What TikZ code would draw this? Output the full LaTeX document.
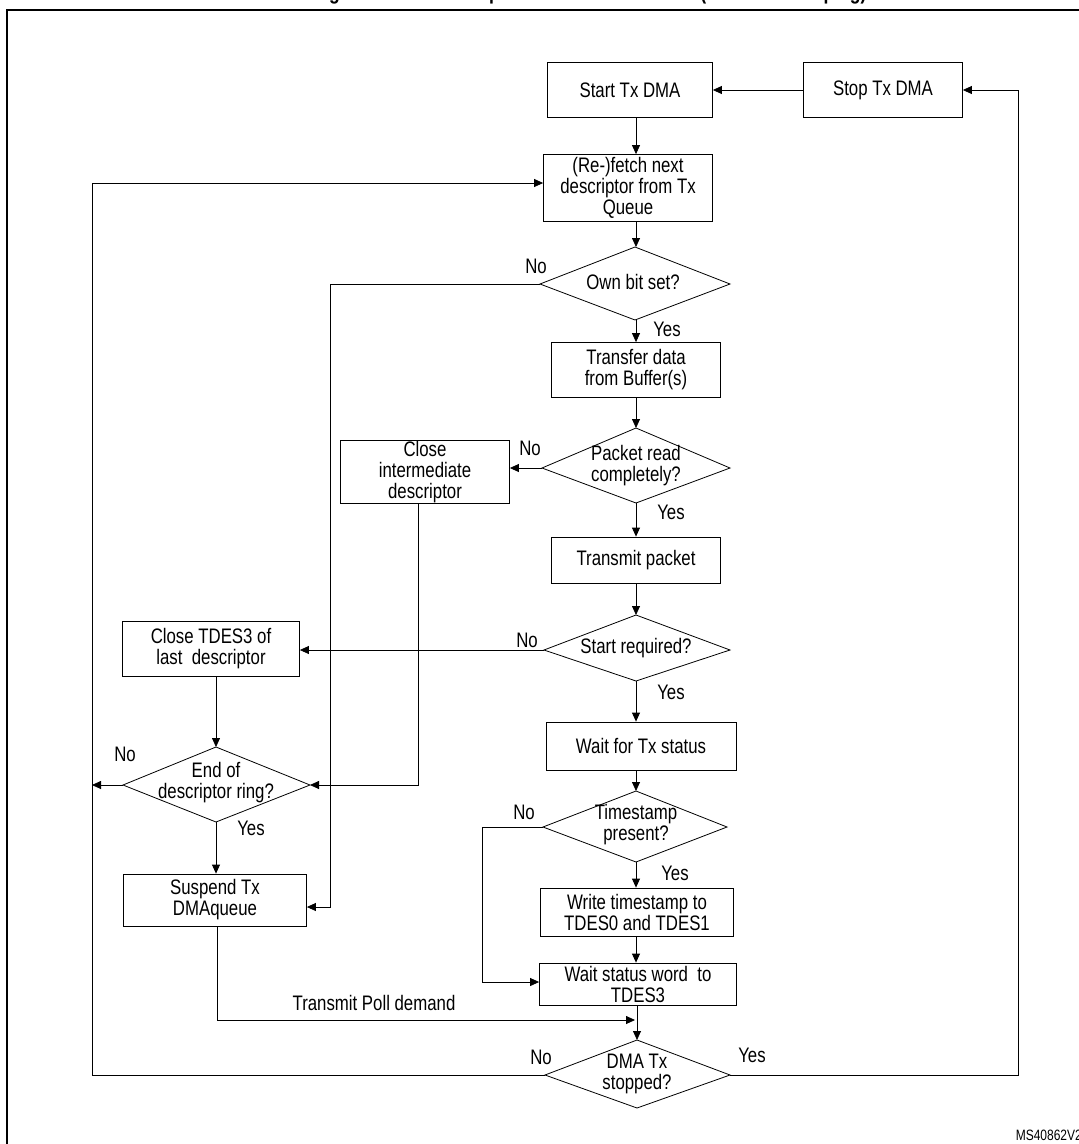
\documentclass[tikz,border=0pt]{standalone}
\usepackage{fontspec}
\setmainfont[FakeStretch=0.8]{Liberation Sans}
\usetikzlibrary{arrows.meta}
\begin{document}
\begin{tikzpicture}[x=1pt,y=-1pt,
  font=\fontsize{21}{21}\selectfont,
  box/.style={draw,line width=0.8pt,align=center,inner sep=1pt},
  dia/.style={align=center,inner sep=0pt},
  lbl/.style={inner sep=0pt},
  line/.style={line width=0.8pt},
  arr/.style={line width=0.8pt,-{Triangle[length=9pt,width=8pt]}}]
\useasboundingbox (0,0) rectangle (1079,1144);
\begin{scope}
\clip (0,0) rectangle (1079,1144);
\node[font=\bfseries\fontsize{22}{22}\selectfont] (title) at (590,-6) {Figure 541. TxDMA operation in Default mode (with timestamping)};
\draw[line width=1.2pt] (7,1150) -- (7,10) -- (1090,10);
\end{scope}
\node[box,minimum width=165,minimum height=55] (start) at (630,90) {Start Tx DMA};
\node[box,minimum width=159,minimum height=55] (stop) at (883,90) {Stop Tx DMA};
\node[box,minimum width=169,minimum height=67] (fetch) at (628,188) {(Re-)fetch next\\descriptor from Tx\\Queue};
\draw[line] (540,284)--(635,247)--(730,284)--(635,320)--cycle;
\node[dia] (own) at (633,282) {Own bit set?};
\node[box,minimum width=169,minimum height=55] (transfer) at (636,370) {Transfer data\\from Buffer(s)};
\draw[line] (542,468)--(636,428)--(730,468)--(636,503)--cycle;
\node[dia] (pkt) at (636,466) {Packet read\\completely?};
\node[box,minimum width=169,minimum height=62] (closei) at (425,472) {Close\\intermediate\\descriptor};
\node[box,minimum width=169,minimum height=46] (txp) at (636,560) {Transmit packet};
\draw[line] (544,650)--(636,615)--(730,650)--(636,681)--cycle;
\node[dia] (sreq) at (636,648) {Start required?};
\node[box,minimum width=177,minimum height=55] (close3) at (211,649) {Close TDES3 of\\last\ \ descriptor};
\node[box,minimum width=190,minimum height=48] (wait) at (641,746) {Wait for Tx status};
\draw[line] (123,785)--(216,747)--(310,785)--(216,822)--cycle;
\node[dia] (ring) at (216,783) {End of\\descriptor ring?};
\draw[line] (543,827)--(636,791)--(727,827)--(636,862)--cycle;
\node[dia] (ts) at (636,825) {Timestamp\\present?};
\node[box,minimum width=183,minimum height=52] (susp) at (215,900) {Suspend Tx\\DMAqueue};
\node[box,minimum width=193,minimum height=48] (wts) at (637,912) {Write timestamp to\\TDES0 and TDES1};
\node[box,minimum width=197,minimum height=42] (wsw) at (638,984) {Wait status word\ \ to\\TDES3};
\draw[line] (545,1075)--(637,1040)--(730,1075)--(637,1108)--cycle;
\node[dia] (stopd) at (637,1074) {DMA Tx\\stopped?};
% connectors
\draw[arr] (stop.west) -- (start.east);
\draw[arr] (636,117.5) -- (fetch.north-|636,0);
\draw[arr] (636,221.5) -- (636,247);
\draw[arr] (636,320) -- (transfer.north);
\draw[arr] (transfer.south) -- (636,428);
\draw[arr] (542,468) -- (closei.east|-542,468);
\draw[arr] (636,503) -- (txp.north);
\draw[arr] (txp.south) -- (636,615);
\draw[arr] (544,650) -- (close3.east|-544,650);
\draw[arr] (636,681) -- (wait.north-|636,0);
\draw[arr] (wait.south-|636,0) -- (636,791);
\draw[arr] (636,862) -- (wts.north-|636,0);
\draw[arr] (wts.south-|636,0) -- (wsw.north-|636,0);
\draw[arr] (wsw.south-|637,0) -- (637,1040);
\draw[arr] (close3.south-|216,0) -- (216,747);
\draw[arr] (216,822) -- (susp.north-|216,0);
\draw[arr] (123,785) -- (92,785);
\draw[arr] (540,284) -- (330,284) -- (330,907) -- (susp.east|-330,907);
\draw[arr] (418,503) -- (418,785) -- (310,785);
\draw[arr] (543,827) -- (482,827) -- (482,982) -- (wsw.west|-482,982);
\draw[arr] (susp.south-|217,0) -- (217,1020) -- (635,1020);
\draw[arr] (545,1075) -- (92,1075) -- (92,183) -- (fetch.west|-92,183);
\draw[arr] (730,1075) -- (1018,1075) -- (1018,90) -- (stop.east);
% labels
\node[lbl] (l1) at (536,266) {No};
\node[lbl] (l2) at (667,329) {Yes};
\node[lbl] (l3) at (530,448) {No};
\node[lbl] (l4) at (671,512) {Yes};
\node[lbl] (l5) at (527,640) {No};
\node[lbl] (l6) at (671,692) {Yes};
\node[lbl] (l7) at (125,754) {No};
\node[lbl] (l8) at (251,828) {Yes};
\node[lbl] (l9) at (524,812) {No};
\node[lbl] (l10) at (675,873) {Yes};
\node[lbl] (l11) at (541,1057) {No};
\node[lbl] (l12) at (752,1055) {Yes};
\node[lbl] (tpd) at (374,1003) {Transmit Poll demand};
\node[lbl,anchor=east,font=\fontsize{15}{15}\selectfont] (ms) at (1082,1135) {MS40862V2};
\end{tikzpicture}
\end{document}
